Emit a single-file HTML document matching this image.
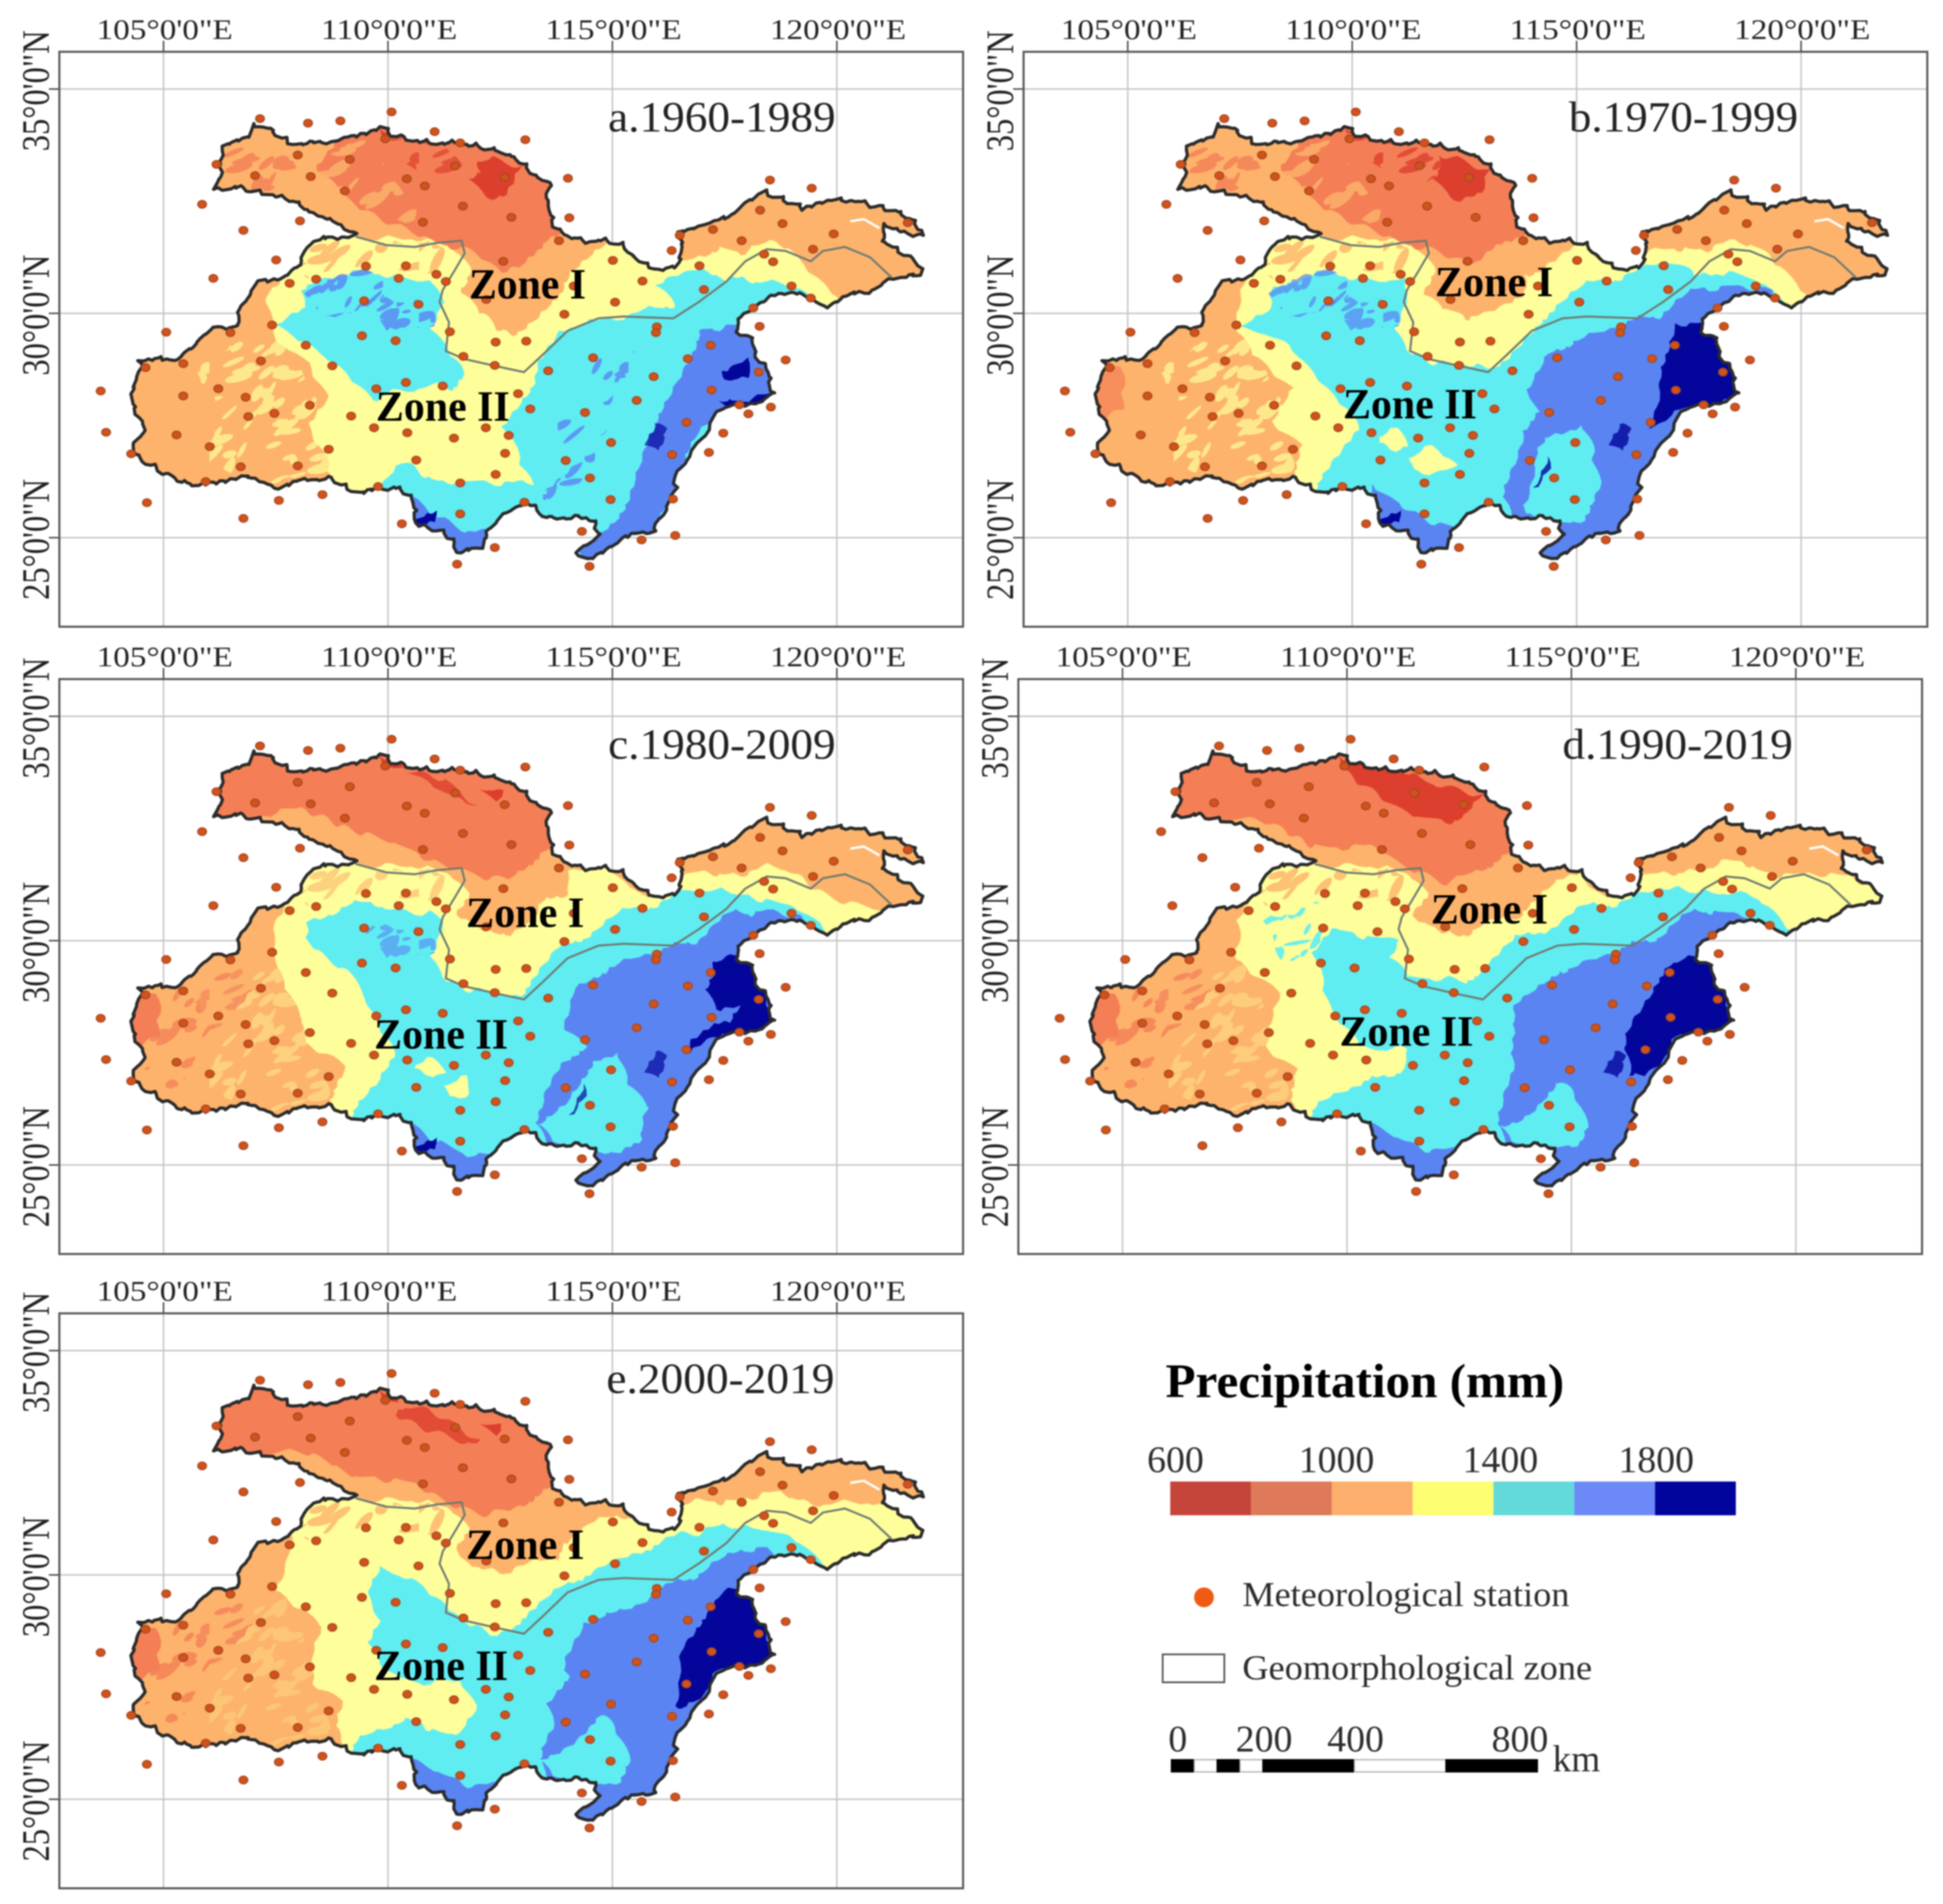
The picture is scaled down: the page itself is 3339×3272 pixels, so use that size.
<!DOCTYPE html>
<html lang="en">
<head>
<meta charset="utf-8">
<title>Precipitation maps by climatological period</title>
<style>
html,body{margin:0;padding:0;background:#fff}
svg{display:block}
#figure{filter:blur(1.3px)}
text{font-family:"Liberation Serif",serif;fill:#222}
.title{font-size:74px}
.zone{font-size:74px;font-weight:bold;fill:#000}
.leg{font-size:60px;fill:#2c2c2c}
.num{font-size:65px;fill:#2c2c2c}
</style>
</head>
<body>
<svg id="chart" xmlns="http://www.w3.org/2000/svg" width="3339" height="3272" viewBox="0 0 3339 3272">
<rect width="3339" height="3272" fill="#fff"/>
<g id="figure">
<defs id="shared-defs">
  <clipPath id="basin-clip"><polygon id="basin-clip-shape" points=""/></clipPath>
</defs>

<g id="panel-a" transform="translate(0,0)">
  <g class="map"></g>
  <text class="title" x="1045" y="226" textLength="391" lengthAdjust="spacingAndGlyphs">a.1960-1989</text>
  <text class="zone" x="806" y="513" textLength="201" lengthAdjust="spacingAndGlyphs">Zone I</text>
  <text class="zone" x="646" y="723" textLength="230" lengthAdjust="spacingAndGlyphs">Zone II</text>
</g>
<g id="panel-b" transform="translate(1657,0)">
  <g class="map"></g>
  <text class="title" x="1039" y="226" textLength="394" lengthAdjust="spacingAndGlyphs">b.1970-1999</text>
  <text class="zone" x="809" y="509" textLength="203" lengthAdjust="spacingAndGlyphs">Zone I</text>
  <text class="zone" x="651" y="719" textLength="230" lengthAdjust="spacingAndGlyphs">Zone II</text>
</g>
<g id="panel-c" transform="translate(0,1078)">
  <g class="map"></g>
  <text class="title" x="1045" y="226" textLength="391" lengthAdjust="spacingAndGlyphs">c.1980-2009</text>
  <text class="zone" x="801" y="515" textLength="203" lengthAdjust="spacingAndGlyphs">Zone I</text>
  <text class="zone" x="643" y="724" textLength="230" lengthAdjust="spacingAndGlyphs">Zone II</text>
</g>
<g id="panel-d" transform="translate(1648,1078)">
  <g class="map"></g>
  <text class="title" x="1037" y="226" textLength="396" lengthAdjust="spacingAndGlyphs">d.1990-2019</text>
  <text class="zone" x="811" y="509" textLength="201" lengthAdjust="spacingAndGlyphs">Zone I</text>
  <text class="zone" x="654" y="719" textLength="230" lengthAdjust="spacingAndGlyphs">Zone II</text>
</g>
<g id="panel-e" transform="translate(0,2168)">
  <g class="map"></g>
  <text class="title" x="1042" y="226" textLength="392" lengthAdjust="spacingAndGlyphs">e.2000-2019</text>
  <text class="zone" x="801" y="511" textLength="203" lengthAdjust="spacingAndGlyphs">Zone I</text>
  <text class="zone" x="643" y="719" textLength="230" lengthAdjust="spacingAndGlyphs">Zone II</text>
</g>

<g id="legend">
  <text x="2003" y="2401" font-size="83" font-weight="bold" style="fill:#000" textLength="685" lengthAdjust="spacingAndGlyphs">Precipitation (mm)</text>
  <g id="colorbar"></g>
  <ellipse cx="2069" cy="2745" rx="17" ry="17" fill="#f05a14"/>
  <text class="leg" x="2135" y="2760" textLength="562" lengthAdjust="spacingAndGlyphs">Meteorological station</text>
  <rect x="1998" y="2843" width="106" height="48" fill="#fff" stroke="#555" stroke-width="3"/>
  <text class="leg" x="2135" y="2886" textLength="601" lengthAdjust="spacingAndGlyphs">Geomorphological zone</text>
  <g id="scalebar"></g>
  <text class="num" x="2668" y="3044" textLength="82" lengthAdjust="spacingAndGlyphs">km</text>
</g>
</g>
</svg>

<script>
const lonTicks = [105, 110, 115, 120];
const latTicks = [35, 30, 25];

const basinOutline = [[106.15,32.78],[106.29,33.16],[106.25,33.39],[106.36,33.71],[106.64,33.84],[106.96,33.98],[106.99,34.16],[107.40,34.16],[107.47,34.03],[107.82,33.80],[108.17,33.78],[108.72,33.84],[109.28,33.94],[109.63,34.07],[109.83,34.18],[110.04,34.03],[110.39,33.89],[110.94,33.80],[111.57,33.80],[112.33,33.66],[112.82,33.48],[113.17,33.16],[113.65,32.84],[113.51,32.52],[113.72,31.98],[113.93,31.75],[114.35,31.62],[114.90,31.62],[115.25,31.52],[115.60,31.16],[116.01,30.98],[116.43,31.02],[116.57,31.52],[116.50,31.80],[117.06,32.02],[117.61,32.12],[117.96,32.43],[118.38,32.71],[118.86,32.52],[119.28,32.34],[119.69,32.52],[120.39,32.52],[121.43,32.25],[121.71,32.02],[121.92,31.71],[121.36,31.84],[121.08,31.98],[121.01,31.62],[121.50,31.34],[121.92,30.98],[121.89,30.84],[121.22,30.80],[120.74,30.48],[120.11,30.39],[119.76,30.11],[119.35,30.39],[118.86,30.48],[118.58,30.39],[118.17,30.11],[117.82,29.89],[117.75,29.57],[118.10,29.48],[118.17,29.07],[118.44,28.75],[118.58,28.25],[118.31,28.02],[117.82,27.98],[117.33,27.79],[117.13,27.43],[116.78,26.88],[116.43,26.43],[116.36,25.93],[116.15,25.61],[115.94,25.15],[115.25,25.02],[114.90,24.75],[114.49,24.52],[114.21,24.65],[114.69,25.06],[114.63,25.38],[114.21,25.47],[113.58,25.43],[113.10,25.79],[112.61,25.52],[112.19,25.15],[112.13,24.79],[111.57,24.65],[111.47,24.97],[111.15,25.15],[110.67,25.29],[110.53,25.84],[110.25,26.11],[109.83,26.11],[109.42,25.97],[109.00,26.16],[108.72,26.34],[108.17,26.29],[107.47,26.11],[107.13,26.29],[106.71,26.38],[106.15,26.20],[105.53,26.20],[105.04,26.43],[104.35,26.84],[104.35,27.11],[104.63,27.47],[104.42,27.70],[104.28,28.25],[104.49,28.75],[104.49,28.98],[105.25,28.98],[105.74,29.34],[106.15,29.70],[106.64,29.70],[106.71,30.16],[107.13,30.71],[107.61,30.80],[108.03,31.11],[108.31,31.62],[109.28,31.75],[108.86,32.02],[108.17,32.30],[107.89,32.52],[107.33,32.66],[106.71,32.80]];

const zoneDivide = [[109.28,31.71],[109.97,31.52],[110.60,31.48],[111.08,31.57],[111.64,31.62],[111.71,31.34],[111.50,30.98],[111.22,30.52],[111.15,30.25],[111.36,29.80],[111.29,29.16],[111.71,28.98],[112.33,28.84],[113.03,28.69],[113.44,29.07],[114.00,29.61],[114.69,29.89],[115.25,29.93],[116.36,29.89],[116.92,30.25],[117.54,30.71],[117.96,31.16],[118.44,31.43],[118.86,31.39],[119.42,31.16],[119.69,31.39],[120.18,31.48],[120.74,31.25],[121.22,30.80]];

const lakeLine = [[120.3,32.05],[120.6,32.1],[120.95,31.9]];

const stations = [[107.15,34.34],[108.22,34.24],[108.94,34.29],[110.08,34.49],[111.04,34.05],[111.61,33.80],[113.06,33.87],[106.18,33.32],[107.99,33.53],[109.15,33.43],[109.94,33.89],[111.50,33.29],[107.04,33.07],[108.28,33.05],[110.42,33.00],[110.82,32.84],[112.60,33.03],[114.01,33.01],[109.04,32.73],[105.86,32.43],[111.67,32.39],[112.75,32.14],[114.04,32.13],[108.04,32.06],[110.78,32.03],[106.78,31.85],[113.81,31.62],[112.57,31.16],[107.51,31.19],[109.51,31.05],[110.40,31.06],[111.08,30.87],[106.11,30.78],[107.81,30.67],[108.40,30.76],[110.24,30.78],[111.29,30.71],[114.14,30.61],[115.01,31.18],[115.67,30.72],[109.47,30.28],[110.68,30.20],[112.19,30.31],[115.06,30.25],[113.93,29.98],[107.42,29.74],[105.06,29.58],[106.49,29.57],[109.42,29.50],[110.17,29.39],[111.38,29.59],[115.99,29.70],[115.97,29.57],[112.40,29.36],[113.08,29.38],[108.17,29.29],[111.68,29.04],[107.17,28.94],[105.44,28.88],[104.60,28.79],[108.76,28.83],[112.38,28.84],[113.57,28.72],[114.57,29.01],[116.68,28.99],[117.19,29.29],[118.86,28.96],[118.26,28.69],[115.92,28.59],[110.40,28.46],[111.22,28.38],[109.74,28.32],[106.22,28.32],[103.60,28.27],[105.44,28.16],[106.83,28.13],[112.90,28.21],[117.21,28.29],[115.54,28.06],[108.26,27.95],[113.17,27.87],[117.83,27.96],[118.53,27.91],[118.03,27.76],[106.89,27.70],[107.47,27.77],[109.18,27.71],[114.39,27.79],[116.65,27.57],[109.69,27.45],[112.18,27.45],[103.72,27.35],[110.43,27.34],[112.69,27.28],[117.47,27.33],[105.29,27.29],[111.47,27.22],[114.97,27.12],[106.03,27.03],[108.68,26.97],[104.28,26.87],[112.61,26.88],[117.15,26.90],[116.33,26.85],[110.63,26.73],[113.96,26.72],[106.72,26.58],[107.99,26.60],[112.40,26.41],[114.50,26.33],[111.61,26.22],[105.94,26.25],[109.78,26.14],[108.54,25.96],[114.96,25.85],[116.35,25.86],[104.63,25.78],[107.57,25.83],[113.04,25.79],[111.61,25.53],[106.78,25.43],[110.31,25.31],[114.32,25.14],[115.65,24.95],[116.40,25.05],[112.38,24.78],[111.54,24.41],[114.49,24.36],[118.51,32.97],[119.44,32.79],[118.29,32.30],[118.79,32.00],[117.24,31.87],[116.50,31.74],[117.88,31.62],[119.93,31.77],[121.58,32.02],[116.32,31.40],[119.47,31.43],[118.38,31.32],[118.58,31.15],[116.94,31.06],[118.99,30.61],[117.04,30.53],[119.42,30.34],[118.14,30.12],[118.28,29.71]];

/* shared minor patches */
const mottleNorth = [[108.3,31.6],[111.65,31.6],[111.5,31],[109.7,31.05],[108.6,30.8],[107.9,30.8]];
const blotchWest1 = [[108.1,30.4],[109,30.8],[110,31],[110,30.4],[108.8,29.9]];
const blotchWest2 = [[109.5,30.3],[110.9,30.5],[111,29.9],[110,29.6]];
const navySouth = [[110.6,25.35],[111.1,25.6],[111.15,25.3]];
const navySpeck1 = [[115.75,26.9],[116.1,27.45],[116.25,27.35],[116,26.8]];
const navySpeck2 = [[113.95,26.15],[114.15,26.7],[114.2,26.5],[114.05,26.15]];
const westSalmon1 = [[104.15,28.8],[104.75,28.8],[104.85,27.9],[104.35,27.8]];
const westSalmon2 = [[105.2,29.1],[106.7,29.6],[107,28.8],[106.3,27.8],[105,27.5],[104.6,27.9]];
const westSalmon3 = [[104.4,27.3],[105.6,27.3],[105.5,26.7],[104.5,26.8]];
const westPale = [[105.6,28.9],[107.6,29.6],[108.5,28.2],[108.6,26.4],[105.6,26.4],[106.4,27.7]];
const lobePale = [[107.9,33.7],[109.3,33.7],[110.7,32.3],[110.6,31.9],[109.6,32.1],[108.5,32.7],[107.9,33]];

/* panel a: 1960-1989 */
const aYellow = [[108.3,31.7],[111.5,31.65],[111.75,31.15],[111.45,30.45],[111.85,29.9],[112.4,29.5],[112.85,29.45],[113.4,29.9],[113.95,30.45],[114.2,31],[114.9,31.45],[115.3,31.65],[115.85,31.2],[116.65,31.2],[117.35,31.45],[117.9,31.3],[118.6,31.45],[119.3,31.1],[119.7,30.75],[120.05,30.45],[120.1,29.85],[116.65,25.2],[112.75,24.3],[108.7,24.3],[108.55,26.9],[108.3,27.7],[108.7,28.25],[108.3,28.9],[107.6,29.3],[107.2,30.3],[107.9,30.9]];
const aCyanWest = [[108.15,30.45],[108.7,30.7],[109.55,30.9],[110.1,31],[110.95,30.8],[111.1,30.35],[110.95,29.8],[111.1,29.45],[111.4,29],[111.8,28.6],[111.4,28.15],[110.85,28.25],[110,28.35],[109.55,28.15],[109.15,28.6],[108.6,29.05],[108.15,29.25],[107.6,29.6],[108.15,29.95]];
const aCyanEast = [[120.05,30.05],[119.4,30.4],[118.9,30.65],[118,30.7],[117.55,30.6],[117.05,30.7],[116.8,31.05],[116.3,30.9],[115.95,30.7],[116.35,30.25],[115.8,30.1],[114.7,30],[113.85,29.6],[113.45,29],[113.3,28.45],[112.75,27.6],[113,27],[113.15,26.35],[112.45,26.25],[111.65,26.35],[110.95,26.25],[110.25,26.5],[109.85,26.1],[110.25,24.25],[118,24.25],[120.8,27.9]];
const aBlueEast = [[117.05,29.6],[118.25,29.6],[118.85,28.25],[117.35,27.7],[117.05,27.35],[116.65,26.7],[116.35,26.05],[116.1,25],[114.75,24.25],[114.2,24.75],[115.1,25.25],[115.4,25.7],[115.8,26.9],[116.1,27.6],[116.5,28.6]];
const aBlueSouth = [[110.4,25.9],[111.1,25.45],[111.8,25.25],[112.35,25.35],[112.35,24.25],[111.1,24.25],[110.4,25.25]];
const aBlueSpot1 = [[114.2,29.1],[115.4,29.4],[115.3,28.6],[114.4,28.4]];
const aBlueSpot2 = [[113.7,27.6],[114.9,28.1],[114.8,27.4],[113.7,26.9]];
const aBlueSpot3 = [[113.4,26],[114.4,26.9],[114.4,26.2],[113.4,25.6]];
const aNavy1 = [[117.45,27.95],[117.85,28.2],[118.6,28.3],[118.6,28.15],[117.85,27.9]];
const aNavy2 = [[117.6,28.8],[118.15,28.95],[118.15,28.65],[117.75,28.55]];
const aSalmon = [[108.65,34.35],[114.15,34.35],[114.15,31.9],[113.6,31.6],[113.3,31.25],[112.9,30.85],[112.45,30.95],[112.05,31.35],[111.7,31.6],[110.95,31.7],[110.25,31.9],[109.7,32.15],[109.15,32.5],[108.75,32.9],[108.3,33.35],[108.65,33.8]];
const aSalmonWest = [[106.2,33.7],[107.8,33.7],[108,33],[106.95,32.8],[106.2,33]];
const aRed1 = [[112.05,33.5],[112.45,33.6],[112.95,33.35],[112.8,33],[112.55,32.65],[112.05,32.65],[111.85,33],[112.15,33.25]];
const aRed2 = [[109.7,34.15],[110.05,34.05],[110.4,33.85],[109.85,33.85]];
const aRedStreak = [[109.95,33.9],[111.35,33.7],[111.8,33.2],[111.1,33],[110.4,33.4]];

/* panel b: 1970-1999 */
const bYellow = [[108.3,31.7],[111.5,31.65],[111.75,31.15],[111.4,30.45],[111.8,30],[112.45,29.8],[113.15,29.95],[113.9,30.4],[113.95,30.85],[114.65,31.15],[115.3,31.65],[115.85,31.2],[116.65,31.4],[117.9,31.4],[118.4,31.45],[119.15,31.35],[119.7,31.15],[120,30.8],[120.25,30.5],[120.1,29.85],[116.65,25.2],[112.75,24.3],[108.6,24.3],[108.6,26.3],[108.85,27.3],[108.3,27.75],[108.7,28.4],[107.9,29.05],[107.35,29.7],[107.45,30.45],[107.9,31.05]];
const bCyan = [[119.85,30.05],[119.55,30.35],[119.3,30.6],[118.45,30.9],[117.6,30.7],[117.05,31],[116.8,31.15],[116.1,31],[115.25,30.7],[114.7,30.35],[114.15,29.8],[113.6,29.15],[113.15,28.75],[112.35,28.75],[111.65,28.9],[111.1,29.25],[110.95,29.8],[111.1,30.45],[111.1,30.8],[110,30.95],[109.15,30.8],[108.3,30.45],[108.15,29.9],[107.6,29.55],[108.3,29.35],[108.85,29.15],[109.3,28.6],[109.7,27.9],[110,27.35],[109.7,26.9],[109.3,26.35],[109.05,25.9],[109.05,24.25],[118,24.25],[120.8,27.9]];
const bYellowIsle1 = [[110.55,27.2],[111.1,27.35],[111.35,27.05],[110.95,26.9],[110.6,27.1]];
const bYellowIsle2 = [[111.45,26.7],[111.8,27],[112.35,26.6],[112.05,26.45],[111.5,26.55]];
const bBlue = [[119.4,30.5],[118.6,30.6],[117.6,30.35],[116.9,29.95],[116.1,29.8],[115,29.55],[114.3,29.15],[113.95,28.5],[114.15,27.95],[113.7,27.35],[113.5,26.7],[113.3,25.8],[113.6,24.25],[116.65,24.25],[119.4,27.9],[119.4,29.7]];
const bCyanIsle = [[114.3,27.25],[115,27.5],[115.4,26.9],[115.65,26.25],[115.4,25.6],[115.25,25.25],[114.4,25.25],[113.85,25.5],[113.85,26.05],[114,26.9]];
const bBlueSouth = [[110.4,26.05],[110.95,25.75],[111.9,25.5],[112.5,25.35],[112.5,24.25],[111.1,24.25],[110.4,25.25]];
const bNavy = [[117.25,29.7],[118.25,29.6],[118.45,29],[118.7,28.25],[117.9,28],[117.35,27.8],[117.05,27.5],[116.8,27.5],[116.9,28.4],[117.05,29.15]];
const bSalmon = [[108.65,34.35],[114.15,34.35],[114.15,31.9],[113.65,31.6],[113.1,31.3],[112.55,31.05],[112.2,31.3],[111.7,31.6],[110.95,31.7],[110.25,31.9],[109.7,32.15],[109.15,32.5],[108.75,32.9],[108.3,33.35],[108.65,33.8]];
const bRed1 = [[112.05,33.7],[112.45,33.6],[113,33.25],[112.85,32.8],[112.35,32.55],[112.05,32.65],[111.85,33],[112.05,33.35]];
const bRedStreak = [[109.7,34.2],[110.55,33.9],[111.4,33.7],[112.35,33.5],[111.95,33],[111.1,33],[110.4,33.45],[109.85,33.85]];

/* panel c: 1980-2009 */
const cYellow = [[108.25,31.7],[111.45,31.65],[111.7,31.15],[111.3,30.6],[111.7,30.25],[112.35,30.05],[113.3,30.25],[113.45,30.7],[114.15,31.05],[114.15,31.45],[114.9,31.6],[115.8,31.15],[116.65,31.5],[117.75,31.45],[118.45,31.5],[119.4,31.35],[119.95,31.15],[120.8,30.8],[121.2,30.6],[120.1,29.7],[116.65,25.15],[112.45,24.25],[108.7,24.25],[108.6,26.35],[109.05,27.35],[108.3,27.9],[108.3,28.35],[107.6,29.35],[107.35,30.15],[107.9,31.05]];
const cCyan = [[119.55,30.45],[119.15,30.7],[118.3,30.9],[117.6,31],[117.05,31],[116.55,31.15],[116.1,31],[115.25,30.7],[114.7,30.35],[113.85,29.8],[113.3,29.05],[113,28.65],[112.35,28.75],[111.65,28.9],[111.1,29.25],[110.95,29.8],[111.1,30.45],[110.95,30.7],[110,30.9],[109.15,30.7],[108.3,30.35],[108.15,29.9],[108.6,29.7],[109.3,29.45],[109.55,28.9],[109.7,28.25],[110,27.35],[109.7,26.7],[109.3,26.35],[109.05,25.9],[109.05,24.25],[118,24.25],[120.8,27.9],[119.85,30.05]];
const cYellowIsle1 = [[110.55,27.15],[111.1,27.3],[111.4,27.05],[110.95,26.95]];
const cYellowIsle2 = [[111.45,26.7],[111.8,26.95],[111.9,26.6],[111.5,26.55]];
const cBlue = [[119.3,30.5],[118.6,30.65],[117.6,30.45],[116.9,30],[116.1,29.8],[115,29.6],[114.15,29],[113.95,28.25],[114.35,27.8],[113.7,27.25],[113.45,26.8],[113.25,25.9],[113.6,24.25],[116.65,24.25],[119.4,27.9],[119.4,29.7]];
const cCyanIsle = [[114.55,27.35],[115,27.5],[115.4,26.8],[115.95,26.25],[115.8,25.6],[115.25,25.15],[114.4,25.25],[113.6,25.5],[113.3,25.9],[113.85,26.35],[114.15,26.8]];
const cBlueSouth = [[110.4,25.9],[110.95,25.55],[111.9,25.35],[112.35,25.4],[112.35,24.25],[111.1,24.25],[110.4,25.25]];
const cNavy = [[117.25,29.5],[118.15,29.55],[118.4,28.9],[118.65,28.2],[117.75,28],[117.2,27.7],[116.9,27.5],[116.85,27.8],[117.75,28.25],[118,28.6],[117.45,28.5],[117.2,28.8],[117.45,29.2]];
const cSalmon = [[106.1,34.3],[114.15,34.3],[114.15,32.15],[113.45,31.9],[112.9,31.55],[112.55,31.3],[112.05,31.5],[111.65,31.8],[110.8,31.9],[110,32.15],[109.15,32.45],[108.45,32.75],[107.9,32.95],[106.95,32.9],[106.1,32.8]];
const cRed1 = [[109.7,34.15],[110.05,34.05],[110.4,33.8],[109.85,33.8]];
const cRed2 = [[110.55,33.7],[111.35,33.5],[112,33.05],[111.35,33.25]];
const cRed3 = [[112.2,33.5],[112.6,33.5],[112.45,33.3]];

/* panel d: 1990-2019 */
const dYellow = [[108.25,31.7],[111.45,31.65],[111.7,31.15],[111.25,30.6],[111.65,30.2],[112.35,30],[113.1,30.25],[113.85,30.45],[114.15,30.8],[114.7,31.2],[115.25,31.55],[115.8,31.15],[116.55,31.45],[117.75,31.55],[118.45,31.6],[119.3,31.55],[120.1,31.55],[121.1,31.5],[121.5,31.35],[122.1,31],[122.1,29.9],[116.65,25.15],[112.45,24.25],[108.7,24.25],[108.65,26.35],[108.85,27.35],[108.3,27.8],[108.45,28.25],[108.6,28.8],[107.6,29.45],[107.45,30.25],[107.9,31.05]];
const dCyan = [[120,30.15],[119.7,30.5],[119.15,30.9],[118,31.05],[117.35,31],[116.8,31.15],[116.1,31],[115.25,30.8],[114.7,30.45],[113.85,30],[113.3,29.45],[112.6,28.95],[111.9,29.05],[111.35,29.2],[110.95,29.7],[111.1,30.15],[110.55,30.25],[109.7,30.25],[109.4,29.8],[109.55,29.25],[109.7,28.45],[110.25,27.6],[111.35,27.45],[111.3,27.05],[110.25,26.7],[109.3,26.35],[109.05,25.9],[109.05,24.25],[118,24.25],[120.8,27.9]];
const dCyanSpots = [[108.2,30.4],[109.5,30.75],[109.5,30],[108.6,29.5]];
const dBlue = [[119,30.55],[118.3,30.65],[117.6,30.45],[116.9,30.05],[115.95,29.8],[114.7,29.45],[113.85,28.7],[113.65,28],[113.6,27.15],[113.45,26.8],[113.3,25.7],[113.6,24.25],[116.65,24.25],[119.4,27.9],[119.4,29.7]];
const dCyanIsle = [[114.15,26.25],[114.7,26.8],[115.1,26.55],[115.45,25.9],[115.25,25.35],[114.4,25.25],[113.6,25.5],[113.35,25.85]];
const dBlueSouth = [[110.4,25.85],[111.1,25.6],[111.9,25.5],[112.35,25.5],[112.5,24.25],[111.1,24.25],[110.4,25.25]];
const dNavy = [[117.2,29.45],[118.15,29.55],[118.4,28.95],[118.65,28.2],[117.85,28],[117.35,27.8],[117.15,27.35],[116.8,27.05],[116.4,27],[116.3,27.45],[116.5,28.25],[116.8,28.9]];
const dSalmon = [[106.1,34.3],[114.15,34.3],[114.15,32.15],[113.3,31.65],[112.6,31.4],[112.2,31.3],[111.8,31.6],[111.4,31.8],[110.85,32.1],[110,32],[109.15,32.1],[108.45,32.35],[107.9,32.7],[106.95,32.85],[106.1,32.75]];
const dRed = [[109.7,34.15],[110.55,33.85],[111.35,33.7],[112.35,33.6],[113,33.3],[112.65,32.9],[112.1,32.7],[111.55,32.8],[110.85,33.25],[110,33.7]];

/* panel e: 2000-2019 */
const eYellow = [[108.25,31.7],[111.45,31.65],[111.7,31.15],[111.3,30.6],[111.65,30.1],[112.35,29.95],[113.05,30.1],[113.9,30.35],[113.95,30.7],[114.7,31.15],[115.5,31.45],[116,31.7],[116.55,31.65],[117.75,31.65],[119.4,31.65],[121.1,31.65],[121.4,31.45],[122.1,31.2],[122.1,29.9],[116.65,25.15],[112.45,24.25],[108.7,24.25],[108.8,26.45],[108.95,27.35],[108.4,27.8],[108.45,28.25],[108.6,28.8],[108.15,29.15],[107.6,29.5],[107.6,30.25],[107.9,31.05]];
const eCyan = [[119.7,30.25],[119.25,30.7],[118.3,31],[117.6,31],[116.8,30.9],[116.45,31],[115.95,30.8],[115.25,30.45],[114.55,30.15],[113.85,29.7],[113.3,29.15],[112.9,28.7],[112.35,28.6],[111.8,28.9],[111.35,29.2],[110.95,29.6],[110.55,30.05],[109.85,30.15],[109.6,29.7],[109.85,29.05],[109.55,28.55],[109.85,27.9],[110.8,27.5],[111.65,27.5],[112,27.05],[111.65,26.5],[110.25,26.6],[109.3,26.35],[109.05,25.9],[109.05,24.25],[118,24.25],[120.8,27.9]];
const eBlue = [[118.6,30.6],[117.9,30.45],[117.35,30.15],[116.65,29.9],[116.1,29.7],[115.25,29.35],[114.3,29],[114,28.35],[114,27.8],[113.5,27.15],[113.6,26.7],[113.3,25.7],[113.6,24.25],[116.65,24.25],[119.4,27.9],[119.4,29.7]];
const eCyanIsle = [[114.15,26.35],[114.7,26.85],[115.1,26.55],[115.5,25.9],[115.25,25.25],[114.4,25.25],[113.6,25.5],[113.3,25.85]];
const eBlueSouth = [[110.4,25.8],[111.1,25.6],[112.05,25.45],[112.35,25.5],[112.5,24.25],[111.1,24.25],[110.4,25.25]];
const eNavy = [[117.6,29.55],[118.15,29.55],[118.4,28.9],[118.65,28.2],[117.85,28],[117.35,27.8],[117.15,27.35],[116.65,27],[116.6,27.5],[116.65,28.25],[117.05,28.8],[117.4,29.25]];
const eSalmon = [[106.1,34.3],[114.15,34.3],[114.15,32.15],[113.3,31.65],[112.55,31.35],[112.05,31.45],[111.35,31.8],[110.8,32],[110,32.05],[109.15,32.2],[107.9,32.75],[106.95,32.85],[106.1,32.75]];
const eRed1 = [[109.7,34.15],[110.05,34.05],[110.25,33.8],[109.85,33.85]];
const eRed2 = [[110.25,33.7],[110.95,33.6],[112.05,33.05],[111.9,32.9],[110.95,33.25],[110.25,33.55]];
const eRed3 = [[112.2,33.5],[112.55,33.5],[112.45,33.3]];

/* legend values */
const legendBreaks = [600, 800, 1000, 1200, 1400, 1600, 1800, 2000];
const legendTicks = [600, 1000, 1400, 1800];
const scaleStops = [0, 50, 100, 150, 200, 400, 600, 800];
const scaleTicks = [0, 200, 400, 800];

const NS = 'http://www.w3.org/2000/svg';
const bandFill = {red:'#dd3f2e', salmon:'#f47f56', orange:'#fdb36b', yellow:'#fefe9a', cyan:'#5fedf2', blue:'#5a84f2', navy:'#03059b'};
const legendFill = ['#c5453b','#de7a5a','#fcaf6c','#fefe72','#62dada','#6b8af8','#00049a'];

function xScale(lon){ return 281 + (lon - 105) * 77.14; }
function yScale(lat){ return 153 + (35 - lat) * 77.1; }
function colorbarX(mm){ return 2011 + (mm - 600) * 972 / 1400; }
function scalebarX(km){ return 2013 + km * 629 / 800; }
function pts(ring){ return ring.map(function(p){ return xScale(p[0]).toFixed(1) + ',' + yScale(p[1]).toFixed(1); }).join(' '); }
function mk(tag, parent, attrs){
  const el = document.createElementNS(NS, tag);
  for (const k in attrs) el.setAttribute(k, attrs[k]);
  parent.appendChild(el);
  return el;
}

/* edge styling: contour and coastline edges are roughened cosmetically, the vertices still come from the arrays */
function softNoise(x, y, k){
  return Math.sin(.017*x + .011*y + k)*.5 + Math.sin(.041*x - .029*y + k*2.1)*.32 + Math.sin(.097*x + .073*y + k*3.3)*.22 + Math.sin(.21*x - .17*y + k*4.7)*.14;
}
function jagNoise(x, y, k){
  return Math.sin(.13*x + .21*y + k)*.5 + Math.sin(.31*x - .19*y + k*2)*.35 + Math.sin(.57*x + .43*y + k*3)*.25;
}
function roughRing(ring, step, amp, noiseFn){
  const out = [];
  for (let i = 0; i < ring.length; i++){
    const ax = xScale(ring[i][0]), ay = yScale(ring[i][1]);
    const b = ring[(i + 1) % ring.length];
    const bx = xScale(b[0]), by = yScale(b[1]);
    const n = Math.max(1, Math.round(Math.hypot(bx - ax, by - ay) / step));
    for (let j = 0; j < n; j++){
      const x = ax + (bx - ax) * j / n, y = ay + (by - ay) * j / n;
      out.push((x + amp * noiseFn(x, y, 1.3)).toFixed(1) + ',' + (y + amp * noiseFn(x, y, 2.9)).toFixed(1));
    }
  }
  return out.join(' ');
}
const outlinePoints = roughRing(basinOutline, 6, 5, jagNoise);
document.getElementById('basin-clip-shape').setAttribute('points', outlinePoints);

/* terrain texture tiles */
function tileHash(i, k){ const v = Math.sin(i*12.9898 + k*78.233) * 43758.5453; return v - Math.floor(v); }
const sharedDefs = document.getElementById('shared-defs');
['yellow','orange','salmon','red','blue','cyan'].forEach(function(key){
  const pat = mk('pattern', sharedDefs, {id:'tex-' + key, patternUnits:'userSpaceOnUse', width:360, height:360});
  
  
  for (let i = 0; i < 150; i++){
    const cx = tileHash(i, 1) * 360, cy = tileHash(i, 2) * 360;
    const rot = -65 + tileHash(i, 3) * 60;
    const blob = mk('ellipse', pat, {cx:cx, cy:cy, rx:7 + tileHash(i, 4) * 20, ry:3 + tileHash(i, 5) * 6, fill:bandFill[key], transform:'rotate(' + rot + ' ' + cx + ' ' + cy + ')'});
    
    
  }
});

function band(holder, ring, colorKey, opacity, textured){
  const el = mk('polygon', holder, {points: roughRing(ring, 8, 17, softNoise), fill: textured ? 'url(#tex-' + colorKey + ')' : bandFill[colorKey], 'fill-opacity': opacity === undefined ? 1 : opacity});
  
  
}

function drawPanel(id, paintBands){
  const map = document.querySelector('#panel-' + id + ' .map');

  const frame = mk('rect', map, {x:102, y:89, width:1553, height:988, fill:'#fff', stroke:'none'});
  
  

  lonTicks.forEach(function(lon){
    const g = mk('line', map, {x1:xScale(lon), x2:xScale(lon), y1:89, y2:1077, stroke:'#c4c4c4', 'stroke-width':2.5});
    
    
    const t = mk('line', map, {x1:xScale(lon), x2:xScale(lon), y1:70, y2:89, stroke:'#444', 'stroke-width':2.5});
    
    
    const label = mk('text', map, {x:xScale(lon)+2, y:67, 'font-size':49, 'text-anchor':'middle', textLength:234, lengthAdjust:'spacingAndGlyphs'});
    label.textContent = lon + '\u00B00\'0"E';
    
    
  });
  latTicks.forEach(function(lat){
    const g = mk('line', map, {x1:102, x2:1655, y1:yScale(lat), y2:yScale(lat), stroke:'#c4c4c4', 'stroke-width':2.5});
    
    
    const t = mk('line', map, {x1:84, x2:102, y1:yScale(lat), y2:yScale(lat), stroke:'#444', 'stroke-width':2.5});
    
    
    const label = mk('text', map, {transform:'translate(84,' + (yScale(lat)+3) + ') rotate(-90)', 'font-size':67, 'text-anchor':'middle', textLength:208, lengthAdjust:'spacingAndGlyphs'});
    label.textContent = lat + '\u00B00\'0"N';
    
    
  });

  const border = mk('rect', map, {x:102, y:89, width:1553, height:988, fill:'none', stroke:'#555', 'stroke-width':3.5});
  
  

  const clipped = mk('g', map, {'clip-path':'url(#basin-clip)'});
  
  

  const base = mk('polygon', clipped, {points: outlinePoints, fill: bandFill.orange});
  
  

  paintBands(clipped);

  const lake = mk('polyline', clipped, {points: pts(lakeLine), fill:'none', stroke:'#fff', 'stroke-width':4});
  
  

  const outline = mk('polygon', map, {points: outlinePoints, fill:'none', stroke:'#2b2b2b', 'stroke-width':5.5, 'stroke-linejoin':'round'});
  
  

  const divide = mk('polyline', map, {points: pts(zoneDivide), fill:'none', stroke:'#6f7a72', 'stroke-width':3.5, 'stroke-linejoin':'round'});
  
  

  stations.forEach(function(s){
    const dot = mk('ellipse', map, {cx:xScale(s[0]), cy:yScale(s[1]), rx:7.5, ry:6.5, fill:'#d2521c', stroke:'#a5481f', 'stroke-width':2});
    
    
  });
}

drawPanel('a', function(h){
  band(h, westPale, 'yellow', .7, true);
  band(h, aYellow, 'yellow');
  band(h, mottleNorth, 'orange', .8, true);
  band(h, aCyanWest, 'cyan');
  band(h, aCyanEast, 'cyan');
  band(h, blotchWest1, 'blue', .8, true);
  band(h, blotchWest2, 'blue', .8, true);
  band(h, aBlueEast, 'blue');
  band(h, aBlueSouth, 'blue');
  band(h, aBlueSpot1, 'blue', .8, true);
  band(h, aBlueSpot2, 'blue', .8, true);
  band(h, aBlueSpot3, 'blue', .8, true);
  band(h, aNavy1, 'navy');
  band(h, aNavy2, 'navy');
  band(h, navySouth, 'navy');
  band(h, navySpeck1, 'navy', .7);
  band(h, aSalmonWest, 'salmon', .8, true);
  band(h, aSalmon, 'salmon');
  band(h, lobePale, 'orange', .8, true);
  band(h, aRedStreak, 'red', .7, true);
  band(h, aRed1, 'red');
  band(h, aRed2, 'red');
});
drawPanel('b', function(h){
  band(h, westPale, 'yellow', .7, true);
  band(h, bYellow, 'yellow');
  band(h, mottleNorth, 'orange', .8, true);
  band(h, bCyan, 'cyan');
  band(h, bYellowIsle1, 'yellow');
  band(h, bYellowIsle2, 'yellow');
  band(h, blotchWest1, 'blue', .7, true);
  band(h, blotchWest2, 'blue', .7, true);
  band(h, bBlue, 'blue');
  band(h, bCyanIsle, 'cyan');
  band(h, bBlueSouth, 'blue');
  band(h, bNavy, 'navy');
  band(h, navySouth, 'navy');
  band(h, navySpeck1, 'navy', .8);
  band(h, navySpeck2, 'navy', .8);
  band(h, westSalmon1, 'salmon', .7);
  band(h, aSalmonWest, 'salmon', .8, true);
  band(h, bSalmon, 'salmon');
  band(h, lobePale, 'orange', .8, true);
  band(h, bRedStreak, 'red', .8, true);
  band(h, bRed1, 'red');
});
drawPanel('c', function(h){
  band(h, westPale, 'yellow', .4, true);
  band(h, cYellow, 'yellow');
  band(h, mottleNorth, 'orange', .6, true);
  band(h, cCyan, 'cyan');
  band(h, cYellowIsle1, 'yellow');
  band(h, cYellowIsle2, 'yellow');
  band(h, blotchWest2, 'blue', .6, true);
  band(h, cBlue, 'blue');
  band(h, cCyanIsle, 'cyan');
  band(h, cBlueSouth, 'blue');
  band(h, cNavy, 'navy');
  band(h, navySouth, 'navy');
  band(h, navySpeck1, 'navy', .7);
  band(h, navySpeck2, 'navy', .7);
  band(h, westSalmon1, 'salmon');
  band(h, westSalmon2, 'salmon', .75, true);
  band(h, westSalmon3, 'salmon', .75, true);
  band(h, cSalmon, 'salmon');
  band(h, cRed1, 'red');
  band(h, cRed2, 'red', .8);
  band(h, cRed3, 'red');
});
drawPanel('d', function(h){
  band(h, westPale, 'yellow', .35, true);
  band(h, dYellow, 'yellow');
  band(h, mottleNorth, 'orange', .8, true);
  band(h, dCyanSpots, 'cyan', .9, true);
  band(h, dCyan, 'cyan');
  band(h, dBlue, 'blue');
  band(h, dCyanIsle, 'cyan');
  band(h, dBlueSouth, 'blue');
  band(h, dNavy, 'navy');
  band(h, navySpeck1, 'navy', .8);
  band(h, westSalmon1, 'salmon');
  band(h, westSalmon2, 'salmon', .8, true);
  band(h, westSalmon3, 'salmon', .8, true);
  band(h, dSalmon, 'salmon');
  band(h, dRed, 'red');
});
drawPanel('e', function(h){
  band(h, westPale, 'yellow', .25, true);
  band(h, eYellow, 'yellow');
  band(h, mottleNorth, 'orange', .8, true);
  band(h, eCyan, 'cyan');
  band(h, eBlue, 'blue');
  band(h, eCyanIsle, 'cyan');
  band(h, eBlueSouth, 'blue');
  band(h, eNavy, 'navy');
  band(h, westSalmon1, 'salmon');
  band(h, westSalmon2, 'salmon', .8, true);
  band(h, westSalmon3, 'salmon', .8, true);
  band(h, eSalmon, 'salmon');
  band(h, eRed1, 'red');
  band(h, eRed2, 'red', .8);
  band(h, eRed3, 'red');
});

/* colour bar */
const colorbar = document.getElementById('colorbar');
legendFill.forEach(function(fill, i){
  const seg = mk('rect', colorbar, {x:colorbarX(legendBreaks[i]), y:2546, width:colorbarX(legendBreaks[i+1])-colorbarX(legendBreaks[i]), height:58, fill:fill});
  
  
});
legendTicks.forEach(function(mm){
  const t = mk('text', colorbar, {class:'num', x:colorbarX(mm)+(mm===600?9:(mm===1000?8:(mm===1400?12:2))), y:2530, 'text-anchor':'middle'});
  t.textContent = mm;
  
  
});

/* scale bar */
const scalebar = document.getElementById('scalebar');
scaleStops.slice(0, -1).forEach(function(km, i){
  const seg = mk('rect', scalebar, {x:scalebarX(km), y:3024, width:scalebarX(scaleStops[i+1])-scalebarX(km), height:21, fill:i % 2 ? '#fff' : '#000', stroke:i % 2 ? '#aaa' : '#000', 'stroke-width':2});
  
  
});
scaleTicks.forEach(function(km){
  const t = mk('text', scalebar, {class:'num', x:scalebarX(km)+(km===0?11:(km===800?-30:2)), y:3010, 'text-anchor':'middle'});
  t.textContent = km;
  
  
});
</script>
</body>
</html>
